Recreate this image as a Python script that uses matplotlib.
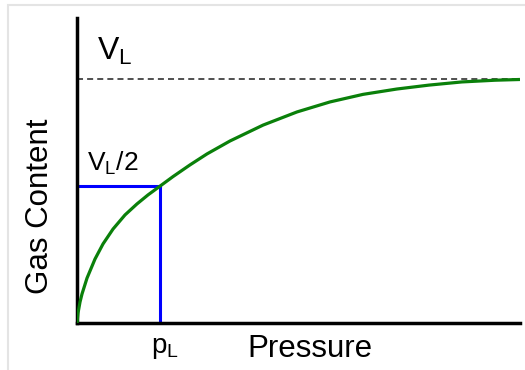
import matplotlib.pyplot as plt
from matplotlib.patches import Rectangle

plt.rcParams["font.family"] = ["Liberation Sans", "DejaVu Sans"]

# Langmuir isotherm sketch, normalised: pressure 0..1, gas content 0..VL=1
pressure = [0.0, 0.0023, 0.0068, 0.0113, 0.0226, 0.0406, 0.0587, 0.0813,
            0.1084, 0.1354, 0.1603, 0.1874, 0.2167, 0.2551, 0.2935, 0.3454,
            0.4199, 0.4966, 0.5711, 0.6456, 0.7223, 0.7946, 0.8691, 0.9436, 1.0]
gas_content = [0.0, 0.041, 0.086, 0.119, 0.184, 0.262, 0.324, 0.385,
               0.443, 0.488, 0.525, 0.561, 0.600, 0.648, 0.693, 0.746,
               0.811, 0.865, 0.906, 0.937, 0.959, 0.975, 0.988, 0.995, 0.998]
v_l = 1.0
p_l = 0.187
half_v = 0.561

fig = plt.figure(figsize=(5.25, 3.7), dpi=100)
fig.patches.append(Rectangle((8 / 525, -0.01), 1.05, 1 - 5 / 370 + 0.01,
                             transform=fig.transFigure, fill=False,
                             edgecolor="#e4e4e4", linewidth=1.5))
ax = fig.add_axes([77 / 525, 47 / 370, 443 / 525, 305 / 370])
ax.set_xlim(0, 1)
ax.set_ylim(0, 1.25)

ax.plot(pressure, gas_content, color="#0a800a", linewidth=2.3,
        solid_capstyle="butt", solid_joinstyle="round", zorder=3)
ax.axhline(v_l, color="#505050", linewidth=1.4, linestyle=(0, (3.1, 2.1)))
ax.plot([0, p_l], [half_v, half_v], color="#0000ff", linewidth=2.2)
ax.plot([p_l, p_l], [half_v, 0.012], color="#0000ff", linewidth=2.2)

for side in ["top", "right"]:
    ax.spines[side].set_visible(False)
for side in ["left", "bottom"]:
    ax.spines[side].set_linewidth(2.5)
    ax.spines[side].set_color("black")
ax.set_xticks([])
ax.set_yticks([])

ax.text(0.045, 1.05, r"$\mathregular{V_L}$", fontsize=23, ha="left", va="bottom")
ax.text(0.022, 0.60, r"$\mathregular{V_L/2}$", fontsize=19, ha="left", va="bottom")
ax.text(0.168, -0.05, r"$\mathregular{p_L}$", fontsize=20, ha="left", va="top")
ax.set_xlabel("Pressure", fontsize=22.5, labelpad=3)
ax.xaxis.set_label_coords(0.526, -0.035, transform=ax.transAxes)
ax.xaxis.label.set_va("top")
ax.set_ylabel("Gas Content", fontsize=22.5)
ax.yaxis.set_label_coords(-0.050, 0.384, transform=ax.transAxes)

fig.savefig("out.png", dpi=100)
